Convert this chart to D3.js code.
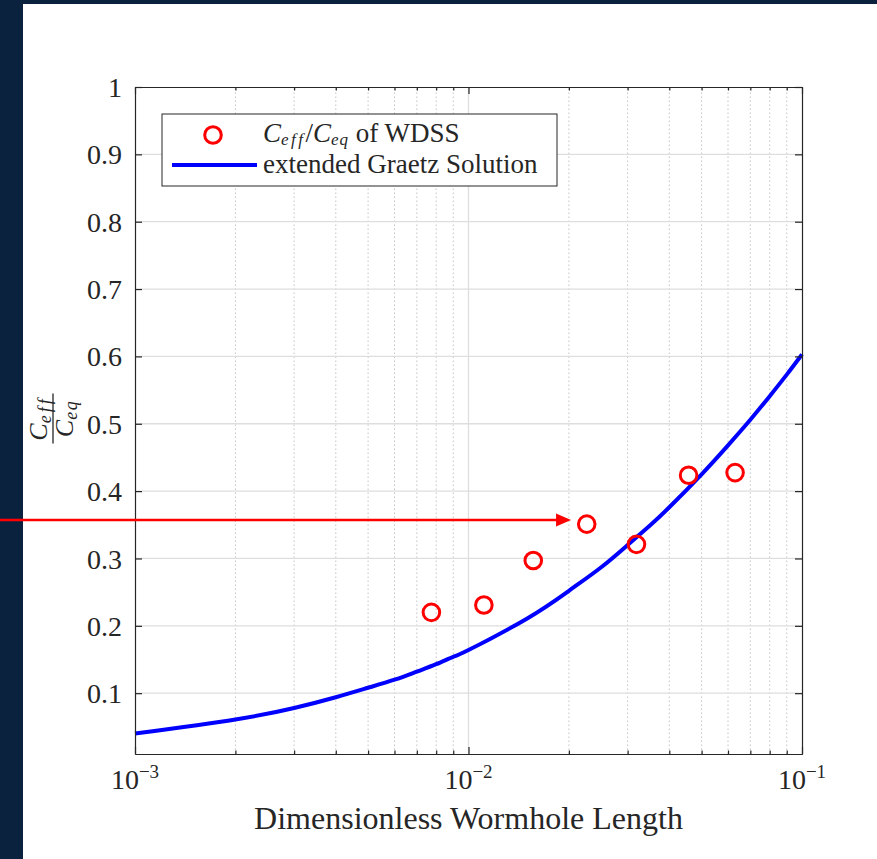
<!DOCTYPE html>
<html>
<head>
<meta charset="utf-8">
<script src="https://cdn.jsdelivr.net/npm/d3@7"></script>
<style>
  body { margin: 0; background: #fff; }
  text { font-family: "Liberation Serif", "DejaVu Serif", serif; fill: #262626; }
</style>
</head>
<body>
<div id="vis"></div>
<script>
// data
var curveX = [0.001, 0.002, 0.003, 0.004, 0.005, 0.006, 0.007, 0.008, 0.009, 0.01, 0.015, 0.02, 0.025, 0.03, 0.035, 0.04, 0.05, 0.06, 0.07, 0.08, 0.09, 0.1];
var curveY = [0.040, 0.061, 0.078, 0.094, 0.108, 0.120, 0.132, 0.143, 0.154, 0.164, 0.211, 0.252, 0.287, 0.320, 0.349, 0.376, 0.425, 0.468, 0.506, 0.541, 0.573, 0.603];

var wdssX = [0.00774, 0.01112, 0.01564, 0.02262, 0.03189, 0.0457, 0.0630];
var wdssY = [0.220, 0.231, 0.297, 0.351, 0.321, 0.4235, 0.4275];

var yTicks = [0.1, 0.2, 0.3, 0.4, 0.5, 0.6, 0.7, 0.8, 0.9, 1];
var yTickLabels = ["0.1", "0.2", "0.3", "0.4", "0.5", "0.6", "0.7", "0.8", "0.9", "1"];
var xMajor = [0.001, 0.01, 0.1];
var xMajorExp = ["\u22123", "\u22122", "\u22121"];

// arrow annotation tip (data coords)
var arrowTip = [0.0203, 0.357];

var width = 877, height = 859;
var margin = { top: 87, left: 135, bottom: 105, right: 75 };

var svg = d3.select('#vis').append('svg')
  .attr('width', width)
  .attr('height', height);

var x = d3.scaleLog()
  .domain([1e-3, 1e-1])
  .range([margin.left, width - margin.right]);

var y = d3.scaleLinear()
  .domain([0.0097, 1])
  .range([height - margin.bottom, margin.top]);

// minor x positions: 2..9 in each decade
var xMinor = [];
[0.001, 0.01].forEach(function (d) {
  for (var k = 2; k <= 9; k++) xMinor.push(d * k);
});

var x0 = x.range()[0], x1 = x.range()[1];
var y0 = y.range()[0], y1 = y.range()[1];

// grid
var grid = svg.append('g').attr('class', 'grid');
grid.selectAll('.minor')
  .data(xMinor)
  .enter().append('line')
  .attr('x1', function (d) { return x(d); })
  .attr('x2', function (d) { return x(d); })
  .attr('y1', y0).attr('y2', y1)
  .style('stroke', '#c4c4c4')
  .style('stroke-width', 1)
  .style('stroke-dasharray', '1.5,2.5');

grid.selectAll('.ymaj')
  .data(yTicks.slice(0, -1))
  .enter().append('line')
  .attr('x1', x0).attr('x2', x1)
  .attr('y1', function (d) { return y(d); })
  .attr('y2', function (d) { return y(d); })
  .style('stroke', '#dedede')
  .style('stroke-width', 1.3);

grid.selectAll('.xmaj')
  .data([0.01])
  .enter().append('line')
  .attr('x1', function (d) { return x(d); })
  .attr('x2', function (d) { return x(d); })
  .attr('y1', y0).attr('y2', y1)
  .style('stroke', '#dedede')
  .style('stroke-width', 1.3);

// curve
var line = d3.line()
  .x(function (d) { return x(d[0]); })
  .y(function (d) { return y(d[1]); })
  .curve(d3.curveNatural);

svg.append('path')
  .datum(d3.zip(curveX, curveY))
  .attr('d', line)
  .style('fill', 'none')
  .style('stroke', '#0000ff')
  .style('stroke-width', 4);

// WDSS points
svg.append('g')
  .selectAll('circle')
  .data(d3.zip(wdssX, wdssY))
  .enter().append('circle')
  .attr('cx', function (d) { return x(d[0]); })
  .attr('cy', function (d) { return y(d[1]); })
  .attr('r', 8.3)
  .style('fill', 'none')
  .style('stroke', '#ff0000')
  .style('stroke-width', 3);

// axes (ticks inward)
var leftAxis = svg.append('g').attr('class', 'axis')
  .attr('transform', 'translate(' + x0 + ',0)')
  .call(d3.axisLeft(y).tickValues(yTicks).tickSize(-7).tickSizeOuter(0)
    .tickPadding(13).tickFormat(function (d, i) { return yTickLabels[i]; }));
leftAxis.selectAll('text')
  .attr('dy', '0.34em')
  .style('font-size', '28px')
  .style('font-family', '"Liberation Serif", serif')
  .style('fill', '#262626');

svg.append('g').attr('class', 'axis')
  .attr('transform', 'translate(' + x1 + ',0)')
  .call(d3.axisRight(y).tickValues(yTicks).tickSize(-7).tickSizeOuter(0).tickFormat(''));

var bottomAxis = svg.append('g').attr('class', 'axis')
  .attr('transform', 'translate(0,' + y0 + ')');
bottomAxis.call(d3.axisBottom(x).tickValues(xMinor).tickSize(-3.5).tickSizeOuter(0).tickFormat(''));
bottomAxis.append('g')
  .call(d3.axisBottom(x).tickValues(xMajor).tickSize(-7).tickSizeOuter(0).tickFormat(''));

var topAxis = svg.append('g').attr('class', 'axis')
  .attr('transform', 'translate(0,' + y1 + ')');
topAxis.call(d3.axisTop(x).tickValues(xMinor).tickSize(-3.5).tickSizeOuter(0).tickFormat(''));
topAxis.append('g')
  .call(d3.axisTop(x).tickValues(xMajor).tickSize(-7).tickSizeOuter(0).tickFormat(''));

svg.selectAll('.axis path, .axis line').style('stroke', '#262626').style('stroke-width', 1.2);

// x tick labels 10^n
var xl = svg.append('g').selectAll('text')
  .data(xMajor)
  .enter().append('text')
  .attr('x', function (d) { return x(d); })
  .attr('y', y0 + 35)
  .attr('text-anchor', 'middle')
  .style('font-size', '28px');
xl.append('tspan').text('10');
xl.append('tspan')
  .attr('dy', -11)
  .style('font-size', '19px')
  .text(function (d, i) { return xMajorExp[i]; });

// x label
svg.append('text')
  .attr('x', (x0 + x1) / 2)
  .attr('y', 829)
  .attr('text-anchor', 'middle')
  .style('font-size', '32px')
  .text('Dimensionless Wormhole Length');

// y label: fraction C_eff / C_eq
var yl = svg.append('g')
  .attr('transform', 'translate(53,' + ((y0 + y1) / 2 - 2) + ') rotate(-90)');
yl.append('line')
  .attr('x1', -25).attr('x2', 25)
  .attr('y1', 0).attr('y2', 0)
  .style('stroke', '#262626').style('stroke-width', 1.3);
var num = yl.append('text').attr('x', 0).attr('y', -6).attr('text-anchor', 'middle')
  .style('font-style', 'italic');
num.append('tspan').style('font-size', '26px').text('C');
num.append('tspan').attr('dy', 4).style('font-size', '18px').style('letter-spacing', '3px').text('eff');
var den = yl.append('text').attr('x', 0).attr('y', 20).attr('text-anchor', 'middle')
  .style('font-style', 'italic');
den.append('tspan').style('font-size', '26px').text('C');
den.append('tspan').attr('dy', 4).style('font-size', '18px').style('letter-spacing', '1.5px').text('eq');

// legend
var lg = svg.append('g');
lg.append('rect')
  .attr('x', 162).attr('y', 114)
  .attr('width', 395).attr('height', 72)
  .style('fill', '#fff')
  .style('stroke', '#262626')
  .style('stroke-width', 1);
lg.append('circle')
  .attr('cx', 213).attr('cy', 135).attr('r', 8.3)
  .style('fill', 'none').style('stroke', '#ff0000').style('stroke-width', 3);
lg.append('line')
  .attr('x1', 172).attr('x2', 257)
  .attr('y1', 165).attr('y2', 165)
  .style('stroke', '#0000ff').style('stroke-width', 4);
var t1 = lg.append('text').attr('x', 263).attr('y', 142).style('font-size', '27px');
t1.append('tspan').style('font-style', 'italic').text('C');
t1.append('tspan').attr('dy', 3).style('font-size', '17px').style('font-style', 'italic')
  .style('letter-spacing', '2.5px').text('eff');
t1.append('tspan').attr('dy', -3).text('/');
t1.append('tspan').style('font-style', 'italic').text('C');
t1.append('tspan').attr('dy', 3).style('font-size', '17px').style('font-style', 'italic')
  .style('letter-spacing', '1px').text('eq');
t1.append('tspan').attr('dy', -3).text(' of WDSS');
lg.append('text').attr('x', 263).attr('y', 173).style('font-size', '27px')
  .text('extended Graetz Solution');

// dark frame strips
svg.append('rect').attr('x', 0).attr('y', 0).attr('width', 23).attr('height', height).style('fill', '#0b223f');
svg.append('rect').attr('x', 0).attr('y', 0).attr('width', width).attr('height', 4).style('fill', '#0b223f');

// arrow pointing to the WDSS point
var ax = x(arrowTip[0]), ay = y(arrowTip[1]);
svg.append('line')
  .attr('x1', 0).attr('x2', ax - 14)
  .attr('y1', ay).attr('y2', ay)
  .style('stroke', '#ff0000').style('stroke-width', 2.5);
svg.append('path')
  .attr('d', 'M' + ax + ',' + ay + 'L' + (ax - 15) + ',' + (ay - 6.5) + 'L' + (ax - 15) + ',' + (ay + 6.5) + 'Z')
  .style('fill', '#ff0000');
</script>
</body>
</html>
